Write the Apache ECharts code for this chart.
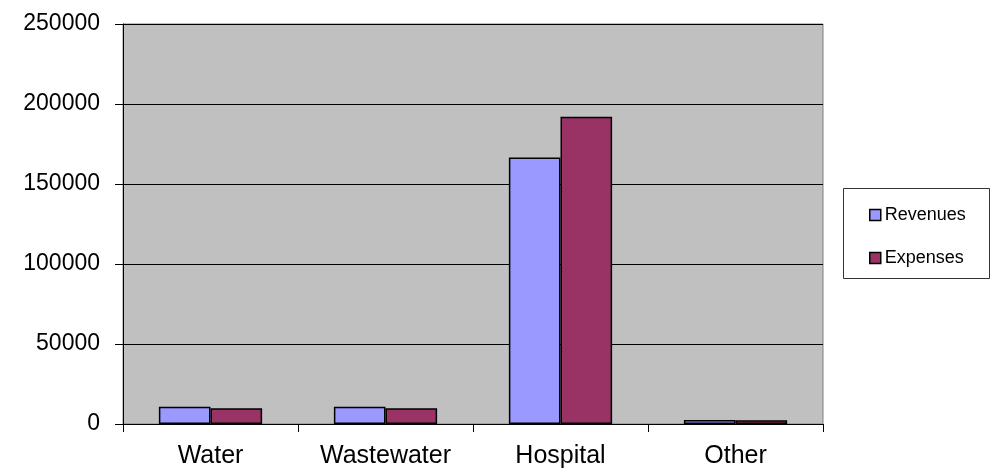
<!DOCTYPE html>
<html>
<head>
<meta charset="utf-8">
<script src="https://cdn.jsdelivr.net/npm/echarts@6/dist/echarts.min.js"></script>
<style>
  html, body { margin: 0; padding: 0; background: #fff; }
  #chart { width: 991px; height: 471px; }
</style>
</head>
<body>
<div id="chart"></div>
<script>
// Fund categories and yearly totals
const categories = ['Water', 'Wastewater', 'Hospital', 'Other'];
const revenues = [10800, 10800, 166500, 2500];
const expenses = [9800, 9800, 192000, 2400];
const yTicks = [0, 50000, 100000, 150000, 200000, 250000];

const chart = echarts.init(document.getElementById('chart'));
const font = 'Liberation Sans, Arial, sans-serif';

chart.setOption({
  animation: false,
  grid: {
    left: 123, top: 24, width: 700, height: 400,
    show: true, backgroundColor: '#c0c0c0', borderColor: '#808080', borderWidth: 1
  },
  legend: {
    orient: 'vertical',
    left: 864, top: 201,
    itemWidth: 11, itemHeight: 11, itemGap: 25,
    icon: 'rect',
    itemStyle: { borderColor: '#000', borderWidth: 1.5 },
    textStyle: { fontFamily: font, fontSize: 18, color: '#000', padding: [0, 0, 0, -1] },
    data: ['Revenues', 'Expenses']
  },
  graphic: [{
    type: 'rect',
    shape: { x: 843.5, y: 188.5, width: 146, height: 90 },
    style: { fill: 'none', stroke: '#333', lineWidth: 1 },
    silent: true, z: -1
  }],
  xAxis: {
    type: 'category',
    data: categories,
    axisLine: { lineStyle: { color: '#000', width: 1 } },
    axisTick: { show: true, interval: 0, length: 8, lineStyle: { color: '#000' } },
    axisLabel: { interval: 0, fontFamily: font, fontSize: 25, color: '#000', margin: 20 }
  },
  yAxis: {
    type: 'value',
    min: yTicks[0], max: yTicks[yTicks.length - 1], interval: yTicks[1] - yTicks[0],
    axisLine: { show: true, lineStyle: { color: '#000', width: 1 } },
    axisTick: { show: true, length: 8, lineStyle: { color: '#000' } },
    axisLabel: { fontFamily: font, fontSize: 23, color: '#000', margin: 23, formatter: v => String(v) },
    splitLine: { lineStyle: { color: '#000', width: 1 } }
  },
  series: [
    {
      name: 'Revenues', type: 'bar', data: revenues,
      barCategoryGap: '41%', barGap: '0%',
      itemStyle: { color: '#9999ff', borderColor: '#000', borderWidth: 1.5 }
    },
    {
      name: 'Expenses', type: 'bar', data: expenses,
      barCategoryGap: '41%', barGap: '0%',
      itemStyle: { color: '#993366', borderColor: '#000', borderWidth: 1.5 }
    }
  ]
});
</script>
</body>
</html>
